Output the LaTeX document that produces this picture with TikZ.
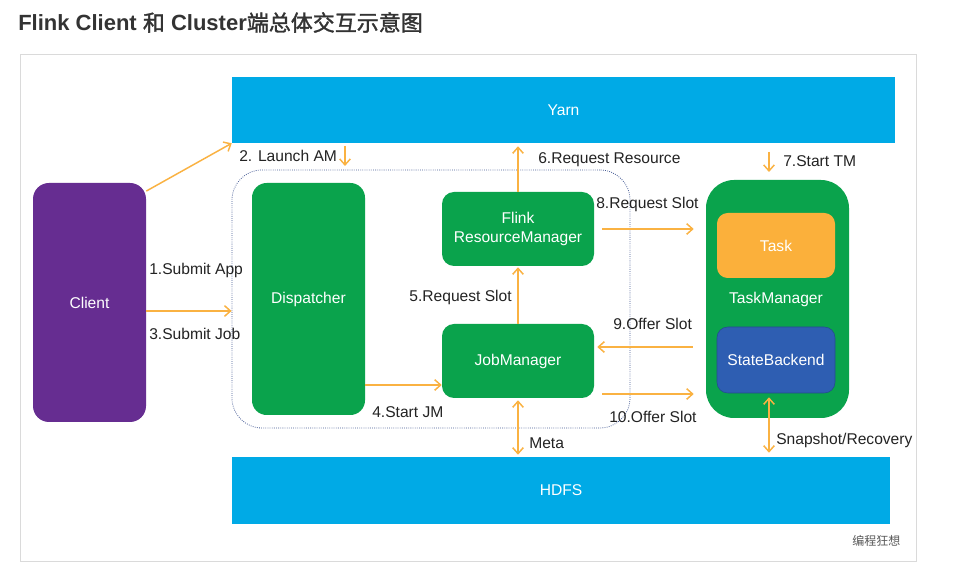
\documentclass[tikz,border=0pt]{standalone}
\usepackage{fontspec}
\setmainfont{Liberation Sans}
\newfontfamily\cjk[AutoFakeBold=1.5]{Noto Sans CJK SC}
\usetikzlibrary{arrows.meta}
\definecolor{yblue}{RGB}{0,170,230}
\definecolor{cpurple}{RGB}{102,45,145}
\definecolor{fgreen}{RGB}{10,163,76}
\definecolor{torange}{RGB}{251,176,59}
\definecolor{sbblue}{RGB}{46,94,178}
\definecolor{arrc}{RGB}{250,178,66}
\definecolor{txt}{RGB}{35,35,35}
\definecolor{titlec}{RGB}{51,51,51}
\definecolor{dashc}{RGB}{70,92,150}
\definecolor{framec}{RGB}{218,218,218}
\begin{document}
\begin{tikzpicture}[x=0.75pt,y=-0.75pt,
  nfont/.style={font=\fontsize{11.7}{14.25}\selectfont},
  box/.style={nfont, inner sep=0pt, text=white, align=center},
  bar/.style={box, fill=yblue},
  lbl/.style={anchor=west, inner sep=0pt, text=txt, nfont},
  arr/.style={draw=arrc, line width=1.1pt, -{Straight Barb[length=4.5pt,width=8pt]}},
  darr/.style={draw=arrc, line width=1.1pt, {Straight Barb[length=4.5pt,width=8pt]}-{Straight Barb[length=4.5pt,width=8pt]}},
  cont/.style={draw=dashc, densely dotted, line width=0.6pt, rounded corners=22.5pt, inner sep=0pt}
]
\useasboundingbox (0,0) rectangle (958,573);
\fill[white] (0,0) rectangle (958,573);

% title and frame
\node[anchor=west, inner sep=0pt, text=titlec, font=\fontsize{16.5}{19}\selectfont\bfseries] (title) at (18,22.5)
  {Flink Client {\cjk\bfseries 和} Cluster{\cjk\bfseries 端总体交互示意图}};
\draw[framec, line width=0.75pt] (20,55) rectangle (916,562);

% bars
\node[bar, minimum width=497.25pt, minimum height=49.5pt] (yarn) at (563.5,110) {Yarn};
\node[bar, minimum width=493.5pt, minimum height=50.25pt] (hdfs) at (561,490.5) {HDFS};

% client
\node[box, fill=cpurple, rounded corners=12pt, minimum width=84.75pt, minimum height=179.25pt] (client) at (89.5,302.5) {Client};

% cluster container
\node[cont, minimum width=298.5pt, minimum height=193.5pt] (cluster) at (431,299) {};

% cluster nodes
\node[box, fill=fgreen, rounded corners=11pt, minimum width=84.75pt, minimum height=174pt] (disp) at (308.5,299) {Dispatcher};
\node[box, fill=fgreen, rounded corners=9pt, minimum width=114pt, minimum height=55.5pt] (rm) at (518,229) {Flink\\ResourceManager};
\node[box, fill=fgreen, rounded corners=9pt, minimum width=114pt, minimum height=55.5pt] (jm) at (518,361) {JobManager};

% task manager
\node[box, fill=fgreen, rounded corners=21pt, minimum width=107.25pt, minimum height=178.5pt] (tm) at (777.5,299) {};
\node[box, fill=torange, rounded corners=8pt, minimum width=88.5pt, minimum height=48.75pt] (task) at (776,245.5) {Task};
\node[box] (tmlabel) at (776,299) {TaskManager};
\node[box, fill=sbblue, draw=sbblue!80!black, line width=0.4pt, rounded corners=8pt, minimum width=88.5pt, minimum height=49.5pt] (sb) at (776,360) {StateBackend};

% labels
\node[lbl] (l1) at (149,270) {1.Submit App};
\node[lbl] (l2) at (239,156) {2. Launch AM};
\node[lbl] (l3) at (149,334) {3.Submit Job};
\node[lbl] (l4) at (372,412) {4.Start JM};
\node[lbl, anchor=east] (l5) at (512,297) {5.Request Slot};
\node[lbl] (l6) at (538,160) {6.Request Resource};
\node[lbl] (l7) at (783,161) {7.Start TM};
\node[lbl] (l8) at (596,204) {8.Request Slot};
\node[lbl] (l9) at (613,324) {9.Offer Slot};
\node[lbl] (l10) at (609,417) {10.Offer Slot};
\node[lbl] (lmeta) at (529,443) {Meta};
\node[lbl] (lsnap) at (776,440) {Snapshot/Recovery};
\node[anchor=west, inner sep=0pt, text=black!65, font=\cjk\fontsize{9}{11}\selectfont] (wm) at (852,541) {编程狂想};

% connectors
\coordinate (la1) at (345,146);
\coordinate (la2) at (345,166);
\coordinate (st1) at (769,152);
\coordinate (st2) at (769,172);
\draw[arr] (client.63) -- (yarn.south west);
\draw[arr] (la1) -- (la2);
\draw[arr] (st1) -- (st2);
\draw[arr] (client.east |- 0,311) -- (cluster.west |- 0,311);
\draw[arr] (disp.east |- 0,385) -- (jm.west |- 0,385);
\draw[arr, shorten >=0.75pt] (jm.north) -- (rm.south);
\draw[arr, shorten >=2.25pt] (rm.north) -- (rm.north |- yarn.south);
\draw[arr, shorten <=6pt, shorten >=9pt] (rm.east) -- (rm.east -| tm.west);
\draw[arr, shorten <=9.75pt, shorten >=2.25pt] (tm.west |- 0,347) -- (jm.east |- 0,347);
\draw[arr, shorten <=6pt, shorten >=9pt] (jm.east |- 0,394) -- (tm.west |- 0,394);
\draw[darr, shorten <=1.5pt, shorten >=1.5pt] (jm.south) -- (jm.south |- hdfs.north);
\draw[darr, shorten <=3pt, shorten >=3pt] ([xshift=-5.25pt]sb.south) -- ([xshift=-5.25pt]sb.south |- hdfs.north);
\end{tikzpicture}
\end{document}
